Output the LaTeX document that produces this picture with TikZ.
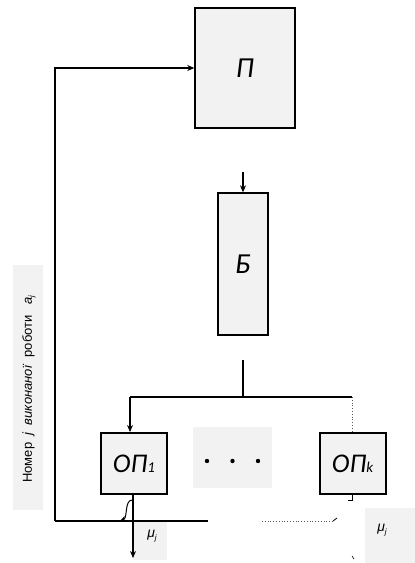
\documentclass[tikz,border=0pt]{standalone}
\usepackage{fontspec}
\setmainfont{Carlito}
\newfontfamily\lab{Liberation Sans}
\usetikzlibrary{arrows.meta}
\definecolor{boxgray}{HTML}{F2F2F2}
\begin{document}
\begin{tikzpicture}[x=1pt,y=-1pt,
  blk/.style={draw=black,fill=boxgray,line width=1.4pt,inner sep=0pt,font=\itshape\fontsize{29}{30}\selectfont},
  opbox/.style={draw=black,fill=boxgray,line width=2pt,inner sep=0pt,minimum width=66pt,minimum height=61pt,font=\itshape\fontsize{27}{28}\selectfont},
  graybox/.style={fill=boxgray,inner sep=0pt},
  conn/.style={line width=1.2pt},
  arr/.style={line width=1.2pt,-{Stealth[length=7pt,width=6pt]}},
  dotl/.style={line width=0.8pt,dotted,gray!70!black}]
\useasboundingbox (0,0) rectangle (415,563);
% blocks
\node[blk,minimum width=100pt,minimum height=120pt] (P) at (245,68) {П};
\node[blk,minimum width=50pt,minimum height=142pt] (B) at (243,264) {Б};
\node[opbox] (OP1) at (134,463.5) {ОП\fontsize{15}{16}\selectfont 1};
\node[opbox] (OPk) at (352.5,463.5) {ОП\fontsize{15}{16}\selectfont k};
\node[graybox,minimum width=79pt,minimum height=61pt] (dots) at (232.5,457.5) {};
\foreach \xx in {207,232.5,258} \fill (\xx,461) circle (2.2pt);
% gray label boxes
\node[graybox,minimum width=34pt,minimum height=40pt] (mu1) at (150,540) {};
\node[font=\itshape\lab\fontsize{14}{15}\selectfont] (mu1t) at (152,536) {μ\raisebox{-3pt}{\fontsize{8}{9}\selectfont j}};
\node[graybox,minimum width=50pt,minimum height=55pt] (muk) at (390,535.5) {};
\node[font=\itshape\lab\fontsize{14}{15}\selectfont] (mukt) at (382,530) {μ\raisebox{-3pt}{\fontsize{8}{9}\selectfont j}};
\node[graybox,minimum width=30pt,minimum height=245pt] (lbl) at (28,387.5) {};
\node[rotate=90,font=\lab\fontsize{13}{15}\selectfont] (lblt) at (29,389)
  {Номер\ \ \textit{j}\ \ \textit{виконаної}\ \ роботи\ \ \ \textit{a}\raisebox{-2pt}{\fontsize{8}{9}\selectfont\textit{j}}};
% coordinates
\coordinate (c1) at (55,68);
\coordinate (c2) at (55,521);
\coordinate (c3) at (208,521);
\coordinate (bt) at (243,172);
\coordinate (bs) at (243,360);
\coordinate (bh) at (243,397);
\coordinate (hl) at (130,397);
\coordinate (hr) at (352,397);
\coordinate (down) at (133,558);
\coordinate (crv) at (120,521);
\coordinate (d1) at (262,521);
\coordinate (d2) at (333,521);
% connectors
\draw[arr] (c2) -- (c1) -- (P.west |- c1);
\draw[arr] (bt) -- (B.north);
\draw[conn] (bs) -- (bh);
\draw[conn] (hr) -- (hl);
\draw[arr] (hl) -- (hl |- OP1.north);
\draw[dotl] (hr) -- (hr |- OPk.north);
\draw[conn] (c2) -- (c3);
\draw[arr] (OP1.south -| down) -- (down);
\draw[line width=1pt,-{Stealth[length=6pt,width=6pt]}] (133,500) .. controls (124,499) and (128,518) .. (crv);
\draw[dotl] (d1) -- (d2);
\draw[line width=0.8pt] (d2) -- (337,518);
\draw[line width=1pt] (352,494) -- (352,500) -- (348,500);
\draw[line width=0.6pt] (352,556) -- (354,559);
\end{tikzpicture}
\end{document}
